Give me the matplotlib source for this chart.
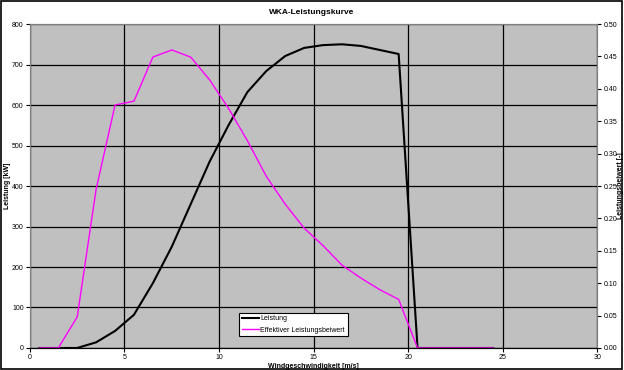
import matplotlib.pyplot as plt
from matplotlib.patches import Rectangle

plt.rcParams['font.family'] = ['Liberation Sans', 'DejaVu Sans']

# Windgeschwindigkeit [m/s]
wind = [0.5, 1.5, 2.5, 3.5, 4.5, 5.5, 6.5, 7.5, 8.5, 9.5, 10.5, 11.5, 12.5,
        13.5, 14.5, 15.5, 16.5, 17.5, 18.5, 19.5, 20.5, 21.5, 22.5, 23.5, 24.5]
# Leistung [kW]
leistung = [0, 0, 0, 14, 42, 82, 160, 250, 355, 460, 550, 632, 684,
            721, 741, 748, 750, 746, 736, 726, 0, 0, 0, 0, 0]
# Effektiver Leistungsbeiwert [-]
cp = [0, 0, 0.048, 0.245, 0.375, 0.381, 0.449, 0.46, 0.449, 0.414, 0.37, 0.32, 0.265,
      0.222, 0.185, 0.158, 0.128, 0.108, 0.09, 0.075, 0, 0, 0, 0, 0]

fig = plt.figure(figsize=(6.24, 3.7), dpi=100)
fig.patches.append(Rectangle((0.002, 0.003), 0.995, 0.993, transform=fig.transFigure,
                             fill=False, edgecolor='black', linewidth=1.2))
ax = fig.add_axes([0.048, 0.0595, 0.909, 0.8755])
ax.set_facecolor('#c0c0c0')
ax2 = ax.twinx()

l1, = ax.plot(wind, leistung, color='black', linewidth=1.5, label='Leistung', zorder=3)
l2, = ax2.plot(wind, cp, color='#ff00ff', linewidth=1.0, label='Effektiver Leistungsbeiwert')

ax.set_xlim(0, 30)
ax.set_ylim(0, 800)
ax2.set_ylim(0, 0.5)
ax.set_xticks(range(0, 31, 5))
ax.set_yticks(range(0, 801, 100))
ax2.set_yticks([i * 0.05 for i in range(11)])
ax2.set_yticklabels([f'{i * 0.05:.2f}' for i in range(11)])

ax.grid(True, color='black', linewidth=0.9)
ax.set_axisbelow(True)
for a in (ax, ax2):
    a.tick_params(labelsize=5, length=3, width=0.8, pad=1.5)
    for s in a.spines.values():
        s.set_color('#808080')
ax.spines['bottom'].set_color('black')
ax2.spines['bottom'].set_color('black')

ax.set_xlabel('Windgeschwindigkeit [m/s]', fontsize=5, fontweight='bold', labelpad=1)
ax.set_ylabel('Leistung [kW]', fontsize=5, fontweight='bold', va='center')
ax.yaxis.set_label_coords(-0.039, 0.5)
ax2.set_ylabel('Leistungsbeiwert [-]', fontsize=5, fontweight='bold', rotation=90,
               va='center')
ax2.yaxis.set_label_coords(1.041, 0.5)
fig.text(0.5, 0.965, 'WKA-Leistungskurve', ha='center', va='center',
         fontsize=6, fontweight='bold')

leg = ax2.legend(handles=[l1, l2], loc='lower left', bbox_to_anchor=(0.363, 0.025),
                 fontsize=5, frameon=True, fancybox=False, framealpha=1,
                 edgecolor='black', handlelength=2.5, borderpad=0.4,
                 labelspacing=0.6, handletextpad=0.1)
leg.get_frame().set_linewidth(0.8)

fig.savefig('out.png', dpi=100)
